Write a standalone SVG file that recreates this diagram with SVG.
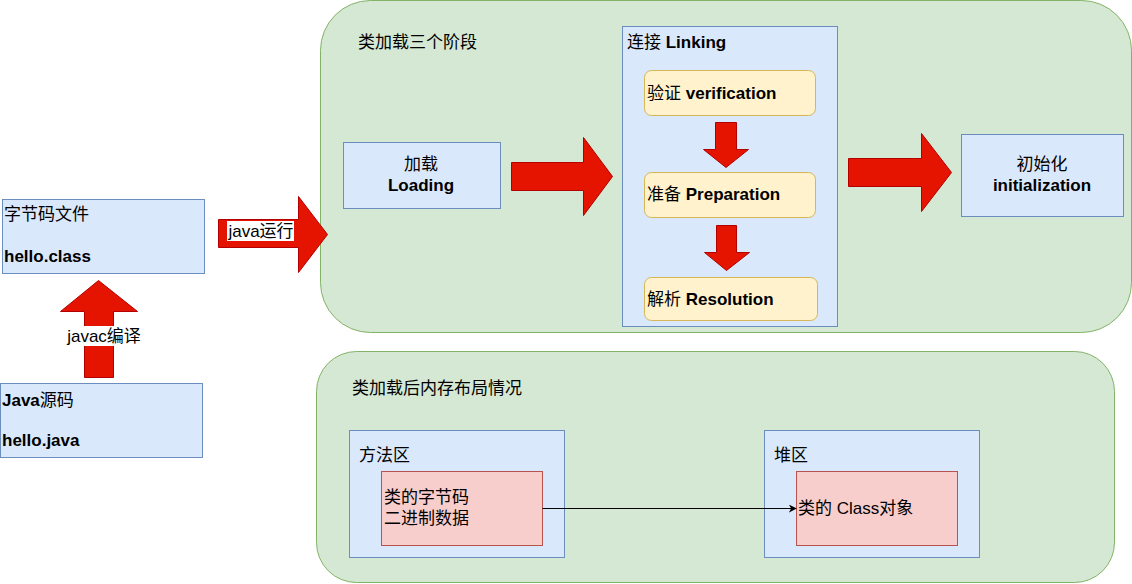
<svg xmlns="http://www.w3.org/2000/svg" width="1132" height="584" viewBox="0 0 1132 584">
<style>
text{font-family:"Liberation Sans","Noto Sans CJK SC",sans-serif;font-size:17px;fill:#000}
.b{font-weight:bold}
.n{font-weight:normal}
.c{text-anchor:middle}
.grn{fill:#d5e8d4;stroke:#82b366;stroke-width:1}
.blu{fill:#dae8fc;stroke:#6c8ebf;stroke-width:1}
.yel{fill:#fff2cc;stroke:#d6b656;stroke-width:1}
.red{fill:#f8cecc;stroke:#b85450;stroke-width:1}
.arr{fill:#e51400;stroke:#b20000;stroke-width:1}
</style>
<defs>
<marker id="ah" viewBox="0 0 10 10" refX="9" refY="5" markerWidth="8" markerHeight="8" orient="auto" markerUnits="userSpaceOnUse"><path d="M0,0 L10,5 L0,10 L3,5 Z" fill="#000"/></marker>
</defs>
<g id="stages"><rect class="grn" x="320.5" y="0.5" width="811" height="332" rx="50"/><text x="358" y="48">类加载三个阶段</text></g>
<g id="memory"><rect class="grn" x="316.5" y="351.5" width="798" height="231" rx="40"/><text x="352" y="394">类加载后内存布局情况</text></g>
<g id="bytecode"><rect class="blu" x="2.5" y="199.5" width="202" height="74"/><text x="4" y="220">字节码文件</text><text class="b" x="4" y="262">hello.class</text></g>
<g id="source"><rect class="blu" x="0.5" y="383.5" width="202" height="74"/><text class="b" x="2" y="406">Java<tspan class="n">源码</tspan></text><text class="b" x="2" y="446">hello.java</text></g>
<g id="loading"><rect class="blu" x="343.5" y="142.5" width="157" height="66"/><text class="c" x="421" y="170">加载</text><text class="b c" x="421" y="191">Loading</text></g>
<g id="linking"><rect class="blu" x="622.5" y="26.5" width="215" height="300"/><text class="b" x="627" y="48"><tspan class="n">连接</tspan> Linking</text></g>
<g id="verification"><rect class="yel" x="644.5" y="70.5" width="171" height="45" rx="7"/><text class="b" x="647" y="99"><tspan class="n">验证</tspan> verification</text></g>
<g id="preparation"><rect class="yel" x="644.5" y="172.5" width="171" height="45" rx="7"/><text class="b" x="647" y="200"><tspan class="n">准备</tspan> Preparation</text></g>
<g id="resolution"><rect class="yel" x="644.5" y="277.5" width="173" height="43" rx="7"/><text class="b" x="647" y="305"><tspan class="n">解析</tspan> Resolution</text></g>
<g id="init"><rect class="blu" x="961.5" y="134.5" width="162" height="82"/><text class="c" x="1042" y="170">初始化</text><text class="b c" x="1042" y="191">initialization</text></g>
<g id="method-area"><rect class="blu" x="349.5" y="430.5" width="215" height="127"/><text x="359" y="461">方法区</text></g>
<g id="bytes"><rect class="red" x="381.5" y="471.5" width="161" height="74"/><text x="384" y="503">类的字节码</text><text x="384" y="524">二进制数据</text></g>
<g id="heap"><rect class="blu" x="764.5" y="430.5" width="215" height="127"/><text x="774" y="461">堆区</text></g>
<g id="classobj"><rect class="red" x="796.5" y="471.5" width="161" height="74"/><text x="798" y="514">类的 Class对象</text></g>
<g id="connectors">
<path class="arr" d="M84.5,377.5 V311.5 H60.5 L98.5,280.5 L137.5,311.5 H113.5 V377.5 Z"/>
<rect x="66" y="326" width="77" height="20" fill="#fff"/>
<text class="c" x="104" y="342">javac编译</text>
<path class="arr" d="M218.5,219.5 H298.5 V196.5 L327.5,234.5 L298.5,272.5 V247.5 H218.5 Z"/>
<rect x="227" y="221" width="67" height="20" fill="#fff"/>
<text class="c" x="261" y="237">java运行</text>
<path class="arr" d="M511.5,162.5 H583.5 V137.5 L612.5,176.5 L583.5,215.5 V190.5 H511.5 Z"/>
<path class="arr" d="M848.5,158.5 H921.5 V133.5 L951.5,172.5 L921.5,211.5 V186.5 H848.5 Z"/>
<path class="arr" d="M715.5,122.5 H736.5 V149.5 H748.5 L726,167.5 L703.5,149.5 H715.5 Z"/>
<path class="arr" d="M716.5,225.5 H736.5 V252.5 H749.5 L726.5,270.5 L704.5,252.5 H716.5 Z"/>
<path d="M542.5,508.5 H796" fill="none" stroke="#000" stroke-width="1" marker-end="url(#ah)"/>
</g>
</svg>
